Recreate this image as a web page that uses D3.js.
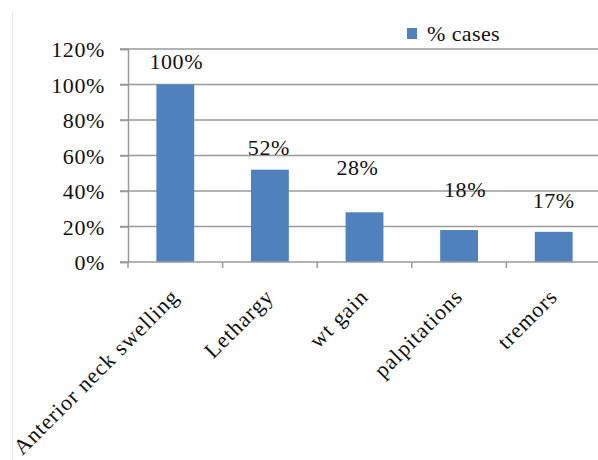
<!DOCTYPE html>
<html>
<head>
<meta charset="utf-8">
<script src="https://cdn.jsdelivr.net/npm/d3@7"></script>
<style>
  html, body { margin: 0; padding: 0; background: #fff; }
  svg { display: block; }
</style>
</head>
<body>
<svg id="chart" width="598" height="460"></svg>
<script>
// Symptoms and share of cases
const categories = ["Anterior neck swelling", "Lethargy", "wt gain", "palpitations", "tremors"];
const values = [100, 52, 28, 18, 17];
const yTicks = [0, 20, 40, 60, 80, 100, 120];
const seriesName = "% cases";

// hand-placed value label nudges (px): horizontal shift, lift above bar top
const labelShiftX = [1, -1, -7, 6, 0];
const labelLift = [16, 15, 37, 33, 24];

const FONT = '"Liberation Serif", "Times New Roman", Times, serif';
const INK = "#111";

const W = 598, H = 460;
const margin = { left: 128, right: -3, top: 49, bottom: 198 };
const svg = d3.select("#chart").attr("font-family", FONT);
svg.append("rect").attr("width", W).attr("height", H).attr("fill", "#fff");

// faint frame edge on the left
svg.append("line")
  .attr("x1", 12.5).attr("x2", 12.5).attr("y1", 12).attr("y2", H)
  .attr("stroke", "#e6e6e6").attr("stroke-width", 1);

const x = d3.scaleBand()
  .domain(categories)
  .range([margin.left, W - margin.right])
  .paddingInner(0.6).paddingOuter(0.3);

const y = d3.scaleLinear()
  .domain([0, 120])
  .range([H - margin.bottom, margin.top]);

const gridColor = "#9a9a9a";

// horizontal gridlines with outer ticks
svg.append("g").selectAll("line")
  .data(yTicks.filter(d => d > 0))
  .join("line")
  .attr("x1", margin.left - 8).attr("x2", W)
  .attr("y1", d => y(d)).attr("y2", d => y(d))
  .attr("stroke", gridColor).attr("stroke-width", 1.5);

// y axis labels
const yAxis = d3.axisLeft(y).tickValues(yTicks).tickFormat(d => d + "%").tickSize(8).tickPadding(15);
const gy = svg.append("g").attr("transform", `translate(${margin.left},0)`).call(yAxis)
  .attr("font-family", FONT).attr("font-size", 22);
gy.select(".domain").attr("stroke", gridColor).attr("stroke-width", 1.5);
gy.selectAll(".tick line").attr("stroke", gridColor).attr("stroke-width", 1.5);
gy.selectAll(".tick text")
  .attr("letter-spacing", 0.6)
  .attr("fill", INK).attr("dy", "0.36em");

// bars
svg.append("g").selectAll("rect")
  .data(values)
  .join("rect")
  .attr("x", (d, i) => x(categories[i]))
  .attr("width", x.bandwidth())
  .attr("y", d => y(d))
  .attr("height", d => y(0) - y(d))
  .attr("fill", "#4f81bd");

// x axis line and category boundary ticks
const step = x.step();
const x0 = margin.left;
svg.append("line")
  .attr("x1", margin.left - 8).attr("x2", W)
  .attr("y1", y(0)).attr("y2", y(0))
  .attr("stroke", gridColor).attr("stroke-width", 1.5);
svg.append("g").selectAll("line")
  .data(d3.range(categories.length + 1))
  .join("line")
  .attr("x1", i => x0 + i * step).attr("x2", i => x0 + i * step)
  .attr("y1", y(0)).attr("y2", y(0) + 6)
  .attr("stroke", gridColor).attr("stroke-width", 1.5);

// rotated category labels
svg.append("g").selectAll("text")
  .data(categories)
  .join("text")
  .attr("text-anchor", "end")
  .attr("font-size", 22).attr("letter-spacing", 1.0)
  .attr("fill", INK)
  .attr("transform", d => `translate(${x(d) + x.bandwidth() / 2 + 5},${y(0) + 36}) rotate(-45)`)
  .text(d => d);

// value labels
svg.append("g").selectAll("text")
  .data(values)
  .join("text")
  .attr("text-anchor", "middle")
  .attr("font-size", 22).attr("letter-spacing", 0.6)
  .attr("fill", INK)
  .attr("x", (d, i) => x(categories[i]) + x.bandwidth() / 2 + labelShiftX[i])
  .attr("y", (d, i) => y(d) - labelLift[i])
  .text(d => d + "%");

// legend
const lg = svg.append("g").attr("transform", "translate(407,28)");
lg.append("rect").attr("width", 10).attr("height", 11).attr("fill", "#4f81bd");
lg.append("text").attr("x", 20).attr("y", 13)
  .attr("font-size", 22).attr("letter-spacing", 0.4)
  .attr("fill", INK)
  .text(seriesName);
</script>
</body>
</html>
